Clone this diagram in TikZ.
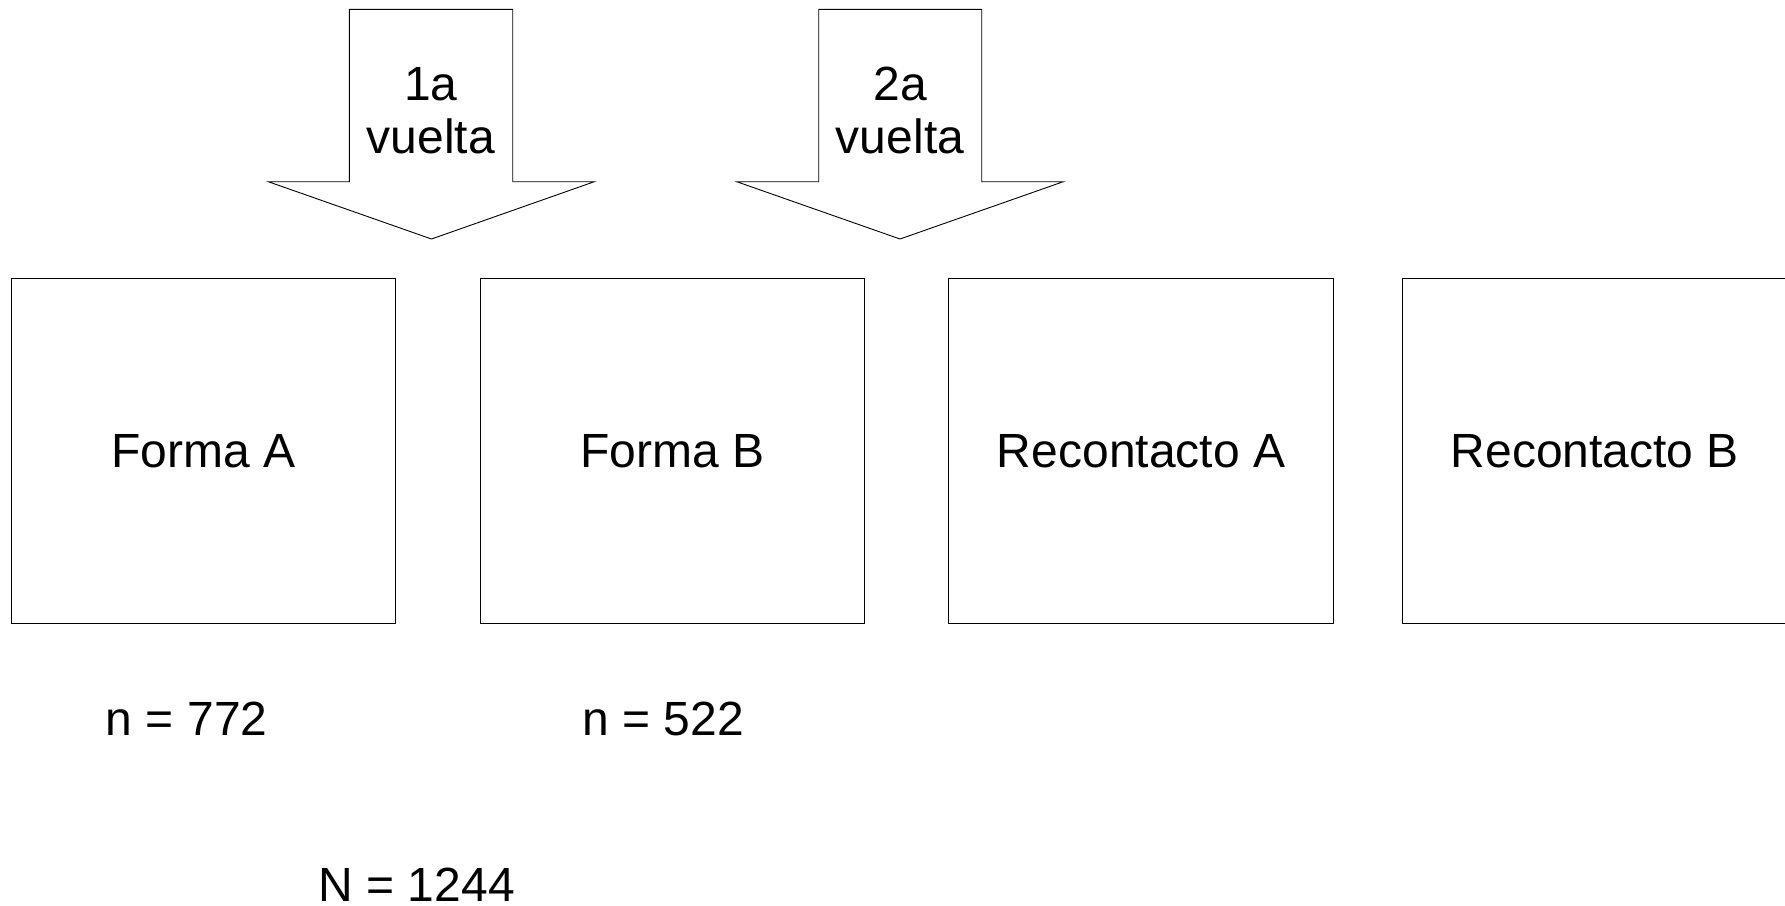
\documentclass[tikz,border=0pt]{standalone}
\usepackage{fontspec}
\setmainfont{Liberation Sans}
\begin{document}
\begin{tikzpicture}[x=1pt,y=-1pt,
  lbl/.style={inner sep=0pt, anchor=base, font=\fontsize{48}{53}\selectfont},
  formbox/.style={draw=black, line width=1pt, inner sep=0pt, minimum width=384.5pt, minimum height=345pt, anchor=north west, font=\fontsize{48}{53}\selectfont},
  bigarrow/.style={draw=black, line width=0.9pt, line join=miter}]
\clip (0,0) rectangle (1785,905);
\useasboundingbox (0,0) rectangle (1785,905);
\fill[white] (0,0) rectangle (1785,905);
% arrows
\draw[bigarrow] (349.3,9.3) -- (512.7,9.3) -- (512.7,181.7) -- (594.3,181.7) -- (431.5,239) -- (268.3,181.7) -- (349.3,181.7) -- cycle;
\node[lbl] (a1t) at (431,100) {1a};
\node[lbl] (a1b) at (431,153) {vuelta};
\draw[bigarrow] (818.7,9.3) -- (981.7,9.3) -- (981.7,181.7) -- (1063.3,181.7) -- (900,239) -- (736.7,181.7) -- (818.7,181.7) -- cycle;
\node[lbl] (a2t) at (900,100) {2a};
\node[lbl] (a2b) at (900,153) {vuelta};
% boxes
\node[formbox] (fa) at (10.7,278.3) {Forma A};
\node[formbox] (fb) at (479.7,278.3) {Forma B};
\node[formbox] (ra) at (948.3,278.3) {Recontacto A};
\node[formbox] (rb) at (1402.2,278.3) {Recontacto B};
% counts
\node[lbl] (n1) at (186.7,735) {n = 772};
\node[lbl] (n2) at (663.3,735) {n = 522};
\node[lbl] (nt) at (416.7,901.3) {N = 1244};
\end{tikzpicture}
\end{document}
